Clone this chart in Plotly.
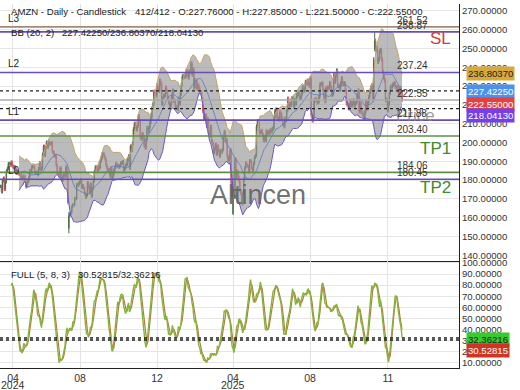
import numpy as np
import pandas as pd
import plotly.graph_objects as go
from plotly.subplots import make_subplots

# ---------------- data (daily closes) ----------------
closes = [
    176.6, 173.7, 179.6, 180.96, 175.0,
    179.0, 184.7, 186.2, 188.7, 188.76, 188.0, 189.5, 187.5, 186.6, 187.1, 186.0, 183.6, 184.7, 183.5, 183.15, 183.1, 181.05, 180.75, 182.15, 182.0, 179.3, 176.4,
    178.3, 179.3, 181.3, 185.0, 184.3, 187.1, 187.2, 186.9, 183.8, 183.7, 184.1, 182.8, 186.1, 189.1, 185.6, 186.3, 193.6, 197.85, 193.25,
    197.2, 200.0, 197.6, 200.0, 199.3, 199.3, 199.8, 195.05, 194.5, 192.7, 193.0, 187.9, 183.75, 183.1, 182.55, 186.4, 180.8, 179.85, 182.5, 183.2, 181.7, 186.98,
    184.1, 167.9, 161.0, 161.9, 162.8, 165.8, 166.9, 166.8, 170.2, 170.1, 177.6, 177.1, 178.2, 178.9, 180.1, 176.1, 177.04, 175.5, 173.1, 170.8, 172.1, 178.5,
    176.25, 173.3, 177.9, 171.4, 175.4, 179.55, 184.5, 187.0, 186.5, 184.9, 186.9, 186.4, 189.9, 191.6, 193.9, 193.96, 192.5, 191.2, 187.97, 186.3,
    185.1, 184.8, 181.96, 186.5, 180.8, 182.7, 185.2, 186.65, 188.8, 187.5, 187.7, 186.9, 187.5, 188.99, 189.07, 189.7, 184.7, 186.4, 187.8, 188.4, 190.8, 192.7, 186.4,
    197.9, 195.8, 199.5, 207.1, 210.05, 208.2, 206.8, 208.9, 214.1, 211.5, 202.6, 201.7, 204.6, 202.9, 198.4, 197.1, 201.45, 207.9, 205.7, 207.9,
    210.7, 213.4, 218.2, 220.55, 227.0, 226.1, 225.0, 230.3, 228.97, 227.5, 232.9, 231.15, 220.5, 223.3, 224.9, 225.06, 229.05, 227.05, 223.75, 221.3, 219.4,
    220.2, 224.2, 227.6, 222.1, 222.1, 218.9, 218.5, 217.8, 223.35, 220.7, 225.9, 230.7, 235.0, 235.4, 234.85, 235.4, 238.15, 237.1, 234.6, 237.7,
    237.4, 242.1, 236.2, 238.8, 229.15, 233.1, 232.8, 228.9, 230.4, 228.7, 226.65, 226.6, 222.9, 216.6, 212.7, 212.8, 214.35, 208.7, 212.3,
    205.0, 203.8, 208.4, 200.7, 199.25, 194.5, 196.6, 198.9, 193.9, 197.95, 195.7, 192.8, 195.5, 194.95, 196.2, 203.3, 205.7, 201.1, 201.4, 192.7, 190.3,
    192.2, 196.0, 178.4, 171.0, 175.3, 170.7, 191.1, 181.2, 184.9, 182.1, 179.6, 174.3, 172.6, 167.3, 173.2, 180.6, 186.5, 188.99, 187.7, 187.4, 184.4,
    190.2, 189.98, 186.35, 185.0, 188.7, 192.1, 193.06, 208.6, 211.4, 210.25, 205.2, 205.6, 206.2, 204.1, 201.1, 203.1, 200.99, 206.0, 204.7, 205.7, 205.0,
    206.65, 205.7, 207.2, 207.9, 213.6, 216.98, 217.6, 213.2, 213.24, 212.1, 216.1, 214.8, 212.5, 209.7, 208.5, 212.8, 211.99, 217.1, 223.3, 219.4,
    220.5, 219.9, 223.4, 223.5, 219.4, 222.5, 220.7, 225.0, 225.7, 226.35, 223.2, 223.9, 226.1, 229.3, 227.5, 228.3, 232.2, 231.4, 232.8, 231.0, 230.2, 234.1,
    214.75, 211.65, 213.75, 222.3, 223.1, 222.7, 221.3, 221.5, 224.6, 230.98, 231.0, 231.5, 228.0, 223.8, 221.95, 228.8, 227.9, 229.3, 229.1, 231.6, 229.0,
    225.3, 225.99, 235.7, 232.3, 235.8, 238.2, 230.3, 229.95, 228.15, 231.4, 234.05, 231.6, 231.2, 231.5, 227.6, 220.7, 220.2, 218.15, 219.8, 222.2, 219.6,
    220.6, 222.4, 219.5, 220.9, 221.8, 225.2, 227.7, 216.4, 220.99, 216.4, 215.6, 214.5, 213.0, 216.5, 222.0, 217.95, 221.1, 224.2, 226.97, 229.25, 230.3, 222.9, 244.2,
    254.0, 249.3, 250.2, 243.0, 244.4, 248.4, 249.1, 244.2, 237.6, 234.7, 232.9, 222.55, 222.7, 217.1, 220.7, 226.3, 229.7, 229.2, 230.5,
    231.0, 231.5, 229.5, 229.1, 229.5, 226.9, 225.5, 229.0, 228.0, 222.55,
]
# bars with wicks read individually (index, open, high, low)
special_idx = [70, 238, 383, 411]
special_open = [154.2, 162.0, 250.0, 227.76]
special_high = [162.96, 183.4, 258.6, 227.85]
special_low = [151.61, 161.38, 248.5, 221.50]

month_ticks = [12.8, 81.4, 160.2, 238.0, 316.8, 396.6]
month_labels = ["04", "08", "12", "04", "08", "11"]
year_labels = {0: "2024", 3: "2025"}

levels = [261.52, 258.87, 237.24, 222.55, 211.88, 203.40, 184.06, 180.45]
level_colors = ["#a48a72", "#6a4cb8", "#6a4cb8", "#a8a8a8", "#6a4cb8", "#5f8f45", "#5f8f45", "#6a4cb8"]
left_tags = {261.52: "L3", 237.24: "L2", 211.88: "L1", 180.45: "L0"}

bb_last = (227.42250, 236.80370, 218.04130)
stoch_last = (30.52815, 32.36216)

# ---------------- derived ----------------
c = pd.Series(closes, dtype=float)
n = len(c)
o = c.shift(1).fillna(c.iloc[0])
h = np.maximum(o, c) * 1.005
l = np.minimum(o, c) * 0.995
for i, oo, hh, ll in zip(special_idx, special_open, special_high, special_low):
    o[i] = oo; h[i] = hh; l[i] = ll
x = np.arange(n)

mid = c.rolling(20).mean()
sd = c.rolling(20).std(ddof=0)
up = mid + 2 * sd
lo = mid - 2 * sd

hh5 = h.rolling(5).max()
ll5 = l.rolling(5).min()
raw = 100 * (c - ll5) / (hh5 - ll5)
k = raw.rolling(8).mean()
d = k.rolling(3).mean()

FONT = "Liberation Sans, Arial, sans-serif"

fig = make_subplots(rows=2, cols=1, shared_xaxes=True, vertical_spacing=0,
                    row_heights=[260 / 368, 108 / 368])

s = slice(19, n)
fig.add_trace(go.Scatter(x=x[s], y=up[s], mode="lines", line=dict(color="#c4a466", width=1),
                         hoverinfo="skip", showlegend=False), row=1, col=1)
fig.add_trace(go.Scatter(x=x[s], y=lo[s], mode="lines", line=dict(color="#6a56d0", width=1),
                         fill="tonexty", fillcolor="rgba(150,150,150,0.65)",
                         hoverinfo="skip", showlegend=False), row=1, col=1)
fig.add_trace(go.Scatter(x=x[s], y=mid[s], mode="lines", line=dict(color="#5a7cc4", width=0.8),
                         hoverinfo="skip", showlegend=False), row=1, col=1)
fig.add_trace(go.Candlestick(x=x, open=o, high=h, low=l, close=c,
                             increasing=dict(line=dict(color="#4d6b4d", width=1), fillcolor="#4d6b4d"),
                             decreasing=dict(line=dict(color="#d5546c", width=1), fillcolor="#d5546c"),
                             whiskerwidth=0, showlegend=False), row=1, col=1)

fig.add_trace(go.Scatter(x=x, y=d, mode="lines", line=dict(color="#b07e3c", width=1.2),
                         showlegend=False), row=2, col=1)
fig.add_trace(go.Scatter(x=x, y=k, mode="lines", line=dict(color="#86b23a", width=1.4),
                         showlegend=False), row=2, col=1)

shapes = []
for v, col in zip(levels, level_colors):
    shapes.append(dict(type="line", xref="x domain", yref="y", x0=0, x1=1, y0=v, y1=v,
                       line=dict(color=col, width=1.6 if col != "#a8a8a8" else 1.5), layer="above"))
for v in (bb_last[0], bb_last[2]):
    shapes.append(dict(type="line", xref="x domain", yref="y", x0=0, x1=1, y0=v, y1=v,
                       line=dict(color="#222222", width=1.3, dash="3px,3px"), layer="above"))
for v in stoch_last:
    shapes.append(dict(type="line", xref="x2 domain", yref="y2", x0=0, x1=1, y0=v, y1=v,
                       line=dict(color="#222222", width=1.5, dash="3px,3px"), layer="above"))
fig.update_layout(shapes=shapes)

ann = []
# watermarks
ann.append(dict(xref="paper", yref="paper", x=258 / 459, y=1 - 193 / 368, yanchor="middle",
                text="Altincen", showarrow=False,
                font=dict(family=FONT, size=27, color="rgba(95,95,95,0.9)")))
ann.append(dict(xref="paper", yref="paper", x=437 / 459, y=1 - 113 / 368, yanchor="middle",
                text="Price", showarrow=False,
                font=dict(family=FONT, size=17, color="rgba(130,130,130,0.8)")))
# level value labels
for v in levels:
    ann.append(dict(xref="paper", yref="y", x=395 / 459, y=v, xanchor="left", yanchor="bottom",
                    text=f"{v:.2f}", showarrow=False, yshift=-1,
                    font=dict(family=FONT, size=10, color="#333333")))
for v, t in left_tags.items():
    ann.append(dict(xref="paper", yref="y", x=6 / 459, y=v, xanchor="left", yanchor="bottom",
                    text=t, showarrow=False, yshift=1,
                    font=dict(family=FONT, size=10, color="#222222")))
ann.append(dict(xref="paper", yref="y", x=453 / 459, y=levels[1], xanchor="right", yanchor="top",
                text="SL", showarrow=False, yshift=5, font=dict(family=FONT, size=17, color="#d23a3a")))
ann.append(dict(xref="paper", yref="y", x=453 / 459, y=levels[5], xanchor="right", yanchor="top",
                text="TP1", showarrow=False, yshift=-1, font=dict(family=FONT, size=17, color="#3f8a2c")))
ann.append(dict(xref="paper", yref="y", x=453 / 459, y=levels[7], xanchor="right", yanchor="top",
                text="TP2", showarrow=False, yshift=3, font=dict(family=FONT, size=17, color="#3f8a2c")))

# headers
hdr = dict(family=FONT, size=9.6, color="#222222")
def head(xpx, ypx, text):
    return dict(xref="paper", yref="paper", x=xpx / 459, y=1 - ypx / 368, xanchor="left",
                yanchor="middle", text=text, showarrow=False, font=hdr)
ann += [
    head(9, 8, "AMZN - Daily - Candlestick"),
    head(133, 8, "412/412 - O:227.76000 - H:227.85000 - L:221.50000 - C:222.55000"),
    head(9, 29, "BB (20, 2)"),
    head(60, 29, f"{bb_last[0]:.5f}/{bb_last[1]:.5f}/{bb_last[2]:.5f}"),
    head(9, 273, "FULL (5, 8, 3)"),
    head(76, 273, f"{stoch_last[0]:.5f}/{stoch_last[1]:.5f}"),
]

# right side value boxes
boxes = [(bb_last[1], "y", "#d6a93a", "#222222", 0),
         (bb_last[0], "y", "#4b92ee", "#ffffff", -1),
         (closes[-1], "y", "#e6403f", "#ffffff", -4),
         (bb_last[2], "y", "#7440ee", "#ffffff", -7),
         (stoch_last[1], "y2", "#35cc2c", "#1a1a1a", -2),
         (stoch_last[0], "y2", "#cf3523", "#ffffff", -11)]
for v, yr, bg, fc, ys in boxes:
    ann.append(dict(xref="paper", yref=yr, x=466 / 459, y=v, xanchor="left", yanchor="middle",
                    text=f"{v:.5f}", showarrow=False, yshift=ys, bgcolor=bg, borderpad=1,
                    font=dict(family=FONT, size=9.6, color=fc)))
# year labels
for i, t in year_labels.items():
    ann.append(dict(xref="x2", yref="paper", x=month_ticks[i], y=0, yanchor="top", text=t,
                    showarrow=False, yshift=-9, font=dict(family=FONT, size=10.5, color="#333333")))

fig.update_layout(annotations=ann)

fig.update_layout(width=520, height=390, margin=dict(l=0, r=61, t=0, b=22),
                  paper_bgcolor="white", plot_bgcolor="white", showlegend=False,
                  font=dict(family=FONT, size=10, color="#333333"))
fig.update_xaxes(range=[-0.5, 469.3], rangeslider_visible=False, showgrid=True,
                 gridcolor="#e4e4e4", tickvals=month_ticks, ticktext=month_labels,
                 zeroline=False, showline=True, linecolor="#222222", linewidth=1)
fig.update_xaxes(showticklabels=False, row=1, col=1)
fig.update_xaxes(tickfont=dict(family=FONT, size=10.5, color="#333333"), ticks="", row=2, col=1)
fig.update_yaxes(side="right", tickformat=".5f", showgrid=True, gridcolor="#e6e6e6",
                 zeroline=False, showline=True, linecolor="#222222", linewidth=1,
                 tickfont=dict(family=FONT, size=9.6, color="#333333"), ticks="")
fig.update_yaxes(range=[136.8, 273.7], dtick=10, tick0=140, row=1, col=1)
fig.update_yaxes(range=[5.2, 101.6], dtick=10, tick0=10, row=2, col=1)

fig.write_html("out.html")
